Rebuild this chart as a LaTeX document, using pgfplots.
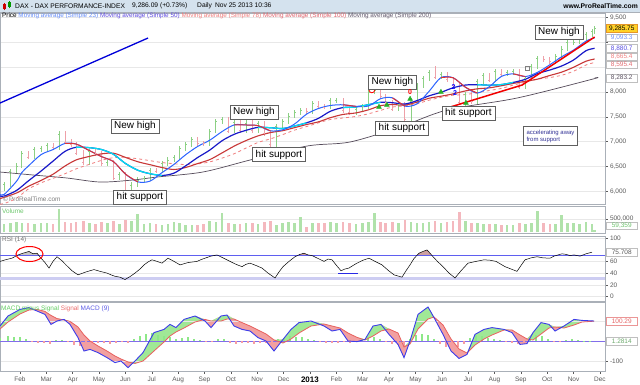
\documentclass[border=0pt]{standalone}
\usepackage{pgfplots}
\pgfplotsset{compat=1.18}
\usepackage{pgfplotstable}
\usepackage{fontspec}
\setmainfont{Liberation Sans}

\definecolor{upc}{RGB}{140,208,132}
\definecolor{dnc}{RGB}{238,160,168}
\definecolor{upv}{RGB}{176,226,170}
\definecolor{dnv}{RGB}{244,184,190}
\definecolor{smaA}{RGB}{45,100,255}
\definecolor{smaAdown}{RGB}{225,50,50}
\definecolor{smaB}{RGB}{25,25,200}
\definecolor{smaC}{RGB}{200,55,55}
\definecolor{smaD}{RGB}{240,125,125}
\definecolor{smaE}{RGB}{85,75,90}
\definecolor{cyanl}{RGB}{0,225,240}
\definecolor{tickc}{RGB}{90,90,90}
\definecolor{framec}{RGB}{170,176,184}
\definecolor{headc}{RGB}{212,226,238}
\definecolor{gridc}{RGB}{232,232,232}
\definecolor{macdc}{RGB}{60,60,235}
\definecolor{sigc}{RGB}{235,95,95}
\definecolor{zeroc}{RGB}{130,110,235}
\definecolor{lav}{RGB}{205,205,242}
\definecolor{rsiL}{RGB}{95,95,240}
\definecolor{rsiF}{RGB}{205,160,160}
\definecolor{arrowG}{RGB}{40,175,40}
\definecolor{macdG}{RGB}{160,232,150}
\definecolor{macdR}{RGB}{242,160,160}
\definecolor{ulb}{RGB}{40,40,230}

\newcommand{\tfont}{\fontsize{6.5}{7.5}\selectfont}

\pgfplotstableread{
x lo hi c v
0.40 6007 6193 6143 315
0.63 6093 6454 6404 350
0.87 6354 6562 6512 385
1.07 6462 6816 6766 350
1.55 6642 6899 6849 315
1.80 6799 6914 6864 330
2.03 6814 6972 6922 350
2.48 6830 7208 7158 880
3.63 6533 6851 6801 350
4.32 6511 6629 6579 330
4.77 6221 6389 6339 315
5.23 5928 6180 6130 420
5.47 6080 6279 6229 700
5.70 6179 6313 6263 315
5.93 6213 6466 6416 350
6.39 6360 6607 6557 280
6.61 6507 6680 6630 315
6.84 6580 6739 6689 385
7.06 6639 6915 6865 350
7.29 6815 6995 6945 260
7.52 6895 7090 7040 280
8.20 6920 7264 7214 420
8.43 7164 7462 7412 385
8.67 7362 7501 7451 720
9.13 7166 7447 7397 315
9.58 7182 7430 7380 350
10.03 7181 7413 7363 315
10.73 6900 7359 7309 280
10.97 7259 7455 7405 350
11.19 7355 7568 7518 385
11.42 7468 7646 7596 350
11.65 7546 7686 7636 560
12.10 7562 7826 7776 350
12.77 7652 7883 7833 385
13.00 7783 7883 7833 350
13.75 7543 7711 7661 315
14.00 7611 7758 7708 350
14.23 7658 8050 8000 385
14.45 7950 8093 8043 720
15.37 7612 7795 7745 350
15.83 7410 7864 7814 385
16.06 7764 8172 8122 350
16.29 8072 8328 8278 350
16.52 8228 8448 8398 385
16.97 8255 8399 8349 350
17.90 7655 8009 7959 420
18.35 7756 8262 8212 350
18.58 8162 8381 8331 315
19.03 8194 8461 8411 315
19.48 8316 8441 8391 280
19.71 8341 8466 8416 280
20.17 8054 8326 8276 315
20.40 8226 8560 8510 350
20.63 8460 8725 8675 800
21.32 8573 8775 8725 315
21.55 8675 8919 8869 650
21.77 8819 9051 9001 350
22.00 8951 9059 9009 350
22.23 8959 9129 9079 315
22.47 9029 9218 9168 385
22.70 9118 9275 9225 315
22.80 9175 9336 9286 59
}\upT

\pgfplotstableread{
x lo hi c v
1.31 6642 6816 6692 350
2.26 6830 6972 6880 315
2.71 6946 7208 6996 385
2.94 6897 7046 6947 350
3.13 6725 6997 6775 385
3.40 6533 6825 6583 420
3.87 6712 6851 6762 315
4.10 6511 6812 6561 385
4.55 6221 6629 6271 420
5.00 5928 6389 5978 455
6.16 6360 6466 6410 315
7.74 6921 7090 6971 280
7.97 6920 7021 6970 315
8.90 7166 7501 7216 350
9.35 7182 7447 7232 315
9.81 7181 7430 7231 350
10.27 7113 7413 7163 385
10.50 6900 7213 6950 420
11.87 7562 7686 7612 210
12.32 7665 7826 7715 350
12.55 7652 7765 7702 350
13.25 7584 7883 7634 385
13.50 7543 7684 7593 350
14.68 7862 8093 7912 385
14.87 7745 7962 7795 350
15.13 7612 7845 7662 385
15.60 7410 7795 7460 455
16.74 8255 8530 8305 420
17.20 8204 8399 8254 385
17.43 8077 8304 8127 420
17.67 7739 8177 7789 780
18.13 7756 8009 7806 350
18.81 8194 8381 8244 315
19.26 8316 8461 8366 280
19.94 8054 8466 8104 350
20.87 8611 8725 8661 350
21.10 8573 8711 8623 315
}\dnT

\pgfplotstableread{
x v
0.24 5935
0.40 5935
0.87 6200
1.07 6376
1.31 6503
1.80 6737
2.26 6841
2.71 6964
3.13 6951
3.63 6820
4.10 6696
4.55 6595
5.00 6346
5.47 6189
5.93 6203
6.39 6375
6.84 6540
7.29 6737
7.74 6902
8.20 7028
8.67 7204
9.13 7338
9.58 7335
10.03 7321
10.50 7217
10.97 7238
11.42 7356
11.87 7553
12.32 7667
12.77 7728
13.25 7743
13.75 7711
14.23 7719
14.68 7865
15.13 7882
15.60 7715
16.06 7761
16.52 8014
16.97 8290
17.43 8287
17.90 8096
18.35 7979
18.81 8110
19.26 8313
19.71 8366
20.17 8311
20.63 8396
21.10 8549
21.55 8711
22.00 8845
22.47 9025
22.80 9093
}\smaAT

\pgfplotstableread{
x v
0.24 5905
0.40 5902
0.87 6015
1.31 6204
1.80 6406
2.26 6609
2.71 6804
3.13 6885
3.63 6878
4.10 6839
4.55 6743
5.00 6560
5.47 6423
5.93 6353
6.39 6317
6.84 6364
7.29 6513
7.74 6679
8.20 6829
8.67 7019
9.13 7148
9.58 7228
10.03 7287
10.50 7280
10.97 7265
11.42 7315
11.87 7378
12.32 7468
12.77 7610
13.25 7686
13.75 7700
14.23 7746
14.68 7792
15.13 7784
15.60 7758
16.06 7826
16.52 7923
16.97 7993
17.43 8085
17.90 8140
18.35 8148
18.81 8138
19.26 8150
19.71 8193
20.17 8256
20.63 8372
21.10 8443
21.55 8525
22.00 8645
22.47 8832
22.80 8881
}\smaBT

\pgfplotstableread{
x v
0.24 5850
0.87 5964
1.31 6095
1.80 6217
2.26 6344
2.71 6508
3.13 6630
3.63 6701
4.10 6753
4.55 6766
5.00 6682
5.47 6594
5.93 6535
6.39 6477
6.84 6438
7.29 6479
7.74 6557
8.20 6637
8.67 6773
9.13 6910
9.58 7022
10.03 7115
10.50 7182
10.97 7221
11.42 7282
11.87 7344
12.32 7398
12.77 7481
13.25 7547
13.75 7579
14.23 7642
14.68 7724
15.13 7747
15.60 7736
16.06 7796
16.52 7874
16.97 7915
17.43 7962
17.90 8022
18.35 8064
18.81 8084
19.26 8126
19.71 8173
20.17 8216
20.63 8259
21.10 8333
21.55 8401
22.00 8499
22.47 8620
22.80 8665
}\smaCT

\pgfplotstableread{
x v
0.24 5740
0.40 5751
0.87 5858
1.31 6042
1.80 6168
2.26 6261
2.71 6353
3.13 6450
3.63 6541
4.10 6623
4.55 6676
5.00 6682
5.47 6654
5.93 6616
6.39 6578
6.84 6554
7.29 6537
7.74 6551
8.20 6591
8.67 6668
9.13 6756
9.58 6871
10.03 6983
10.50 7055
10.97 7142
11.42 7232
11.87 7303
12.32 7378
12.77 7445
13.25 7476
13.75 7508
14.23 7562
14.68 7630
15.13 7697
15.60 7722
16.06 7763
16.52 7835
16.97 7893
17.43 7935
17.90 7949
18.35 7987
18.81 8031
19.26 8072
19.71 8139
20.17 8198
20.63 8260
21.10 8291
21.55 8338
22.00 8419
22.47 8544
22.80 8595
}\smaDT

\pgfplotstableread{
x v
0.24 6387
1.49 6327
2.78 6266
4.04 6185
5.29 6226
6.20 6286
7.94 6387
9.73 6629
11.89 6911
13.52 6992
15.42 7294
17.20 7637
19.86 7879
22.74 8262
22.80 8283
}\smaET

\pgfplotstableread{
px v
0 60
6 63
12 65.5
18 71
23 74
29 77
33 73
37 74
41 65.5
45 58
49 48.6
53 60
57 68
62 61
66 54
72 44
78 37
86 42
94 46
100 43
107 40
111 37
115 34.5
120 33
125 29
130 34
135 40
140 47
144 54
148 59
152 62.7
157 60
162 57
168 65.5
174 60
180 54
188 58
197 60
201 63
205 65.5
211 69
217 71
223 66
230 60
236 55
242 51
246 55
250 57
256 53
262 48.6
268 40
275 31.7
279 42
283 51
289 60
295 68
300 72
304 74
308 71
312 70
318 65
324 60
328 64
332 62.7
337 52
341 44
345 47
349 48.6
353 53
357 57
363 62
369 65.5
375 60
382 54
388 45
394 37
398 35
402 33
406 44
410 54
414 65
419 74
423 77
427 79.6
430 74
433 68
438 59
443 51
449 40
455 31.7
461 44
468 57
476 60
484 62.7
490 62
496 60
500 56
505 51
511 47
517 43
521 53
525 62.7
531 66
537 68
543 66
550 65.5
554 69
558 71
562 73
566 72
570 70
574 71
580 69
586 73
592 75.7
}\rsiT

\pgfplotstableread{
px m s
0 75 60
8 125 95
20 158 135
29 167 155
37 150 158
45 133 148
51 83 128
57 100 112
64 108 105
70 83 98
78 17 70
84 -50 30
90 -42 0
98 -58 -25
107 -83 -50
115 -108 -75
121 -100 -90
128 -133 -105
135 -100 -112
143 -58 -100
154 42 -50
164 58 -5
170 83 25
176 67 45
184 108 65
195 125 95
205 100 108
211 67 100
221 125 100
227 130 110
234 75 110
242 58 92
250 50 75
258 17 55
266 0 35
274 -50 5
283 8 -10
291 58 10
299 92 40
311 100 75
324 75 85
332 50 75
340 58 65
348 0 40
357 -3 18
365 8 5
373 75 25
381 83 50
389 33 60
398 -17 40
404 -83 -30
410 0 -15
418 133 60
428 170 110
434 117 120
443 33 80
451 -50 10
459 -87 -40
467 -67 -60
475 33 -20
484 58 10
492 67 30
504 58 55
512 42 55
520 -17 30
527 -13 10
533 42 5
541 92 35
549 83 65
555 50 70
564 75 65
574 108 80
582 103 95
594 100 99
}\msT

\pgfplotstableread{
px v
0 15
8 25
14 22
20 18
26 10
32 -5
38 -10
44 -8
50 -15
56 5
62 6
68 -5
74 -18
80 -25
86 -20
92 -15
98 -12
104 -10
110 -15
116 -8
122 -3
128 -12
134 8
140 25
146 35
152 38
158 30
164 25
170 22
176 12
182 15
188 18
194 12
200 3
206 -5
212 -3
218 8
224 12
230 -8
236 -15
242 -12
248 -10
254 -15
260 -12
266 -10
272 -15
278 8
284 15
290 25
296 22
302 18
308 10
314 5
320 -5
326 -8
332 -10
338 -8
344 -5
350 -10
356 -3
362 12
368 20
374 18
380 12
386 -5
392 -15
398 -20
404 -25
410 10
416 28
422 35
428 30
434 12
440 -15
446 -28
452 -35
458 -32
464 -15
470 15
476 28
482 25
488 15
494 10
500 5
506 -3
512 -8
518 -15
524 -10
530 15
536 28
542 25
548 10
554 -5
560 -3
566 5
572 8
578 6
584 2
590 1
}\histT

\pgfplotsset{
  panel/.style={
    scale only axis, width=605bp, xmin=0.2428, xmax=23.194,
    anchor=south west,
    axis line style={framec, line width=0.6bp},
    major tick length=2.5bp,
    tick style={tickc, line width=0.4bp},
    tick align=outside,
    ytick pos=right, yticklabel pos=right,
    yticklabel style={font=\tfont, text=tickc, anchor=west, xshift=-1bp},
    /pgf/number format/assume math mode=true,
    /pgf/number format/1000 sep={,},
    ymajorgrids, grid style={gridc, line width=0.5bp},
  }
}
\tikzset{
  ann/.style={draw=gray!75!black, fill=white, line width=0.5bp, inner xsep=3bp, inner ysep=2.6bp,
    font=\fontsize{10}{11}\selectfont, text=black},
  vbox/.style={anchor=west, font=\tfont, inner xsep=1.5bp, inner ysep=0.9bp, fill=white,
    line width=0.5bp, minimum width=31bp, minimum height=7.5bp}
}

\begin{document}
\begin{tikzpicture}[x=1bp,y=1bp]
\useasboundingbox (0,0) rectangle (640,384);
\fill[white] (0,0) rectangle (640,384);
% header band
\fill[headc] (0,371.5) rectangle (640,384);
\draw[framec, line width=0.5bp] (0,371.5) -- (640,371.5);

% ---------------- price panel
\begin{axis}[panel, at={(0bp,180bp)}, height=191bp, ymin=5742, ymax=9593,
  ytick={6000,6500,...,9500},
  yticklabels={{6,000},{6,500},{7,000},{7,500},{8,000},{},{},{9,500}}, xtick=\empty]
\addplot[upc, only marks, mark=-, mark size=1bp, mark options={line width=0.5bp},
  error bars/.cd, y dir=both, y explicit, error mark=none,
  error bar style={upc, line width=0.7bp}]
  table[x=x, y=c, y error plus expr=\thisrow{hi}-\thisrow{c}, y error minus expr=\thisrow{c}-\thisrow{lo}] {\upT};
\addplot[dnc, only marks, mark=-, mark size=1bp, mark options={line width=0.5bp},
  error bars/.cd, y dir=both, y explicit, error mark=none,
  error bar style={dnc, line width=0.7bp}]
  table[x=x, y=c, y error plus expr=\thisrow{hi}-\thisrow{c}, y error minus expr=\thisrow{c}-\thisrow{lo}] {\dnT};
\addplot[smaE, line width=0.7bp, smooth] table[x=x, y=v] {\smaET};
\addplot[smaD, line width=0.8bp, dashed, smooth] table[x=x, y=v] {\smaDT};
\addplot[smaC, line width=1.1bp, smooth] table[x=x, y=v] {\smaCT};
\addplot[smaB, line width=1.2bp, smooth] table[x=x, y=v] {\smaBT};
\addplot[cyanl, line width=1.2bp, smooth, restrict x to domain=3.1:6.4] table[x=x, y=v] {\smaBT};
\addplot[cyanl, line width=1.2bp, smooth, restrict x to domain=10.0:11.9] table[x=x, y=v] {\smaBT};
\addplot[cyanl, line width=1.2bp, smooth, restrict x to domain=13.2:14.9] table[x=x, y=v] {\smaBT};
\addplot[cyanl, line width=1.2bp, smooth, restrict x to domain=18.1:19.8] table[x=x, y=v] {\smaBT};
\addplot[smaA, line width=1.0bp, smooth] table[x=x, y=v] {\smaAT};
\addplot[smaAdown, line width=1.0bp, smooth, restrict x to domain=2.7:5.5] table[x=x, y=v] {\smaAT};
\addplot[smaAdown, line width=1.0bp, smooth, restrict x to domain=9.1:10.55] table[x=x, y=v] {\smaAT};
\addplot[smaAdown, line width=1.0bp, smooth, restrict x to domain=13.2:13.8] table[x=x, y=v] {\smaAT};
\addplot[smaAdown, line width=1.0bp, smooth, restrict x to domain=15.1:15.65] table[x=x, y=v] {\smaAT};
\addplot[smaAdown, line width=1.0bp, smooth, restrict x to domain=16.9:18.4] table[x=x, y=v] {\smaAT};
\addplot[smaAdown, line width=1.0bp, smooth, restrict x to domain=19.7:20.2] table[x=x, y=v] {\smaAT};
% drawn trend lines
\addplot[blue!85!black, line width=1.3bp] coordinates {(0.2428,7778) (5.86,9089)};
\addplot[red!95!black, line width=1.5bp] coordinates {(17.2,7677) (20.05,8141) (22.8,9109)};
% markers
\addplot[only marks, mark=triangle*, mark size=2.8bp, color=arrowG] coordinates {(14.62,7698) (14.92,7738) (15.8,7859) (16.97,8000) (17.92,7778)};
\addplot[only marks, mark=o, mark size=2.8bp, red, mark options={line width=0.8bp}] coordinates {(14.35,8040)};
\addplot[only marks, mark=square, mark size=2bp, gray] coordinates {(20.24,8484)};
\end{axis}

% ---------------- volume panel
\begin{axis}[panel, at={(0bp,151bp)}, height=27bp, ymin=-38, ymax=1000,
  ytick={500}, yticklabels={500{,}000}, xtick=\empty]
\addplot[ycomb, upv, line width=2.6bp] table[x=x, y=v] {\upT};
\addplot[ycomb, dnv, line width=2.6bp] table[x=x, y=v] {\dnT};
\end{axis}

% ---------------- RSI panel
\begin{axis}[panel, at={(0bp,83bp)}, height=65bp, ymin=-7.7, ymax=103.4,
  ytick={0,20,40,60,100}, xtick=\empty]
\addplot[lav, line width=3bp] coordinates {(0.2428,30) (23.194,30)};
\addplot[fill=gray!45, draw=none] coordinates {(0.884,70) (0.926,71) (1.115,74) (1.343,77) (1.495,73) (1.646,74) (1.719,70)};
\addplot[fill=rsiF, draw=none] coordinates {(11.53,70) (11.624,72) (11.775,74) (11.927,71) (12.079,70)};
\addplot[fill=rsiF, draw=none] coordinates {(16.055,70) (16.138,74) (16.29,77) (16.442,79.6) (16.556,74) (16.631,70)};
\addplot[rsiL, line width=0.7bp] coordinates {(0.2428,70) (23.194,70)};
\addplot[black, line width=0.5bp] table[x expr=(\thisrow{px}+6.4)/26.36, y=v] {\rsiT};
\addplot[ulb, line width=1.5bp] coordinates {(13.07,39.7) (13.82,39.7)};
\end{axis}

% ---------------- MACD fill (stacked, hidden axis)
\begin{axis}[scale only axis, width=605bp, height=69bp, at={(0bp,13bp)}, anchor=south west,
  xmin=0.2428, xmax=23.194, ymin=-150, ymax=195, hide axis, stack plots=y]
\addplot[draw=none] table[x expr=(\thisrow{px}+6.4)/26.36, y=s] {\msT};
\addplot[fill=macdG, draw=none] table[x expr=(\thisrow{px}+6.4)/26.36, y expr={max(\thisrow{m}-\thisrow{s},0)}] {\msT} \closedcycle;
\addplot[fill=macdR, draw=none] table[x expr=(\thisrow{px}+6.4)/26.36, y expr={min(\thisrow{m}-\thisrow{s},0)}] {\msT} \closedcycle;
\end{axis}

% ---------------- MACD panel
\begin{axis}[panel, at={(0bp,13bp)}, height=69bp, ymin=-150, ymax=195,
  ytick={-100,100}, yticklabels={{-100},{}},
  xtick={1,...,23}, xtick pos=bottom,
  xticklabels={Feb,Mar,Apr,May,Jun,Jul,Aug,Sep,Oct,Nov,Dec,{\textcolor{black}{\bfseries\fontsize{8}{9}\selectfont 2013}},Feb,Mar,Apr,May,Jun,Jul,Aug,Sep,Oct,Nov,Dec},
  xticklabel style={font=\tfont, text=tickc}]
\addplot[zeroc, line width=0.7bp] coordinates {(0.2428,0) (23.194,0)};
\addplot[ycomb, upv!80!green, line width=2bp, restrict y to domain=0:300] table[x expr=(\thisrow{px}+6.4)/26.36, y=v] {\histT};
\addplot[ycomb, dnv!85!red, line width=2bp, restrict y to domain=-300:0] table[x expr=(\thisrow{px}+6.4)/26.36, y=v] {\histT};
\addplot[sigc, line width=0.8bp] table[x expr=(\thisrow{px}+6.4)/26.36, y=s] {\msT};
\addplot[macdc, line width=0.9bp] table[x expr=(\thisrow{px}+6.4)/26.36, y=m] {\msT};
\end{axis}

% ---------------- header texts
\fill[red!80!black] (2.5,374.5) rectangle (5.5,379.5);
\draw[red!80!black, line width=0.4bp] (4,373.5) -- (4,380.5);
\fill[green!60!black] (7.5,376.5) rectangle (10.5,381.5);
\draw[green!60!black, line width=0.4bp] (9,375.5) -- (9,382.8);
\node[anchor=west, inner sep=0, font=\fontsize{6.7}{7.5}\selectfont] at (15,377.8) {DAX - DAX PERFORMANCE-INDEX};
\node[anchor=west, inner sep=0, font=\fontsize{6.7}{7.5}\selectfont] at (132,377.8) {9,286.09 (+0.73\%)};
\node[anchor=west, inner sep=0, font=\fontsize{6.7}{7.5}\selectfont] at (197,377.8) {Daily\hspace{3bp}Nov 25 2013 10:36};
\node[anchor=east, inner sep=0, font=\bfseries\fontsize{6.8}{7.5}\selectfont] at (638,377.8) {www.ProRealTime.com};

% legend row
\node[anchor=west, inner sep=0, font=\fontsize{6.4}{7}\selectfont] at (2,368) {Price \textcolor[RGB]{100,140,250}{Moving average (Simple 23)} \textcolor[RGB]{95,75,225}{Moving average (Simple 50)} \textcolor[RGB]{240,125,125}{Moving average (Simple 78)} \textcolor[RGB]{225,100,110}{Moving average (Simple 100)} \textcolor[RGB]{100,90,110}{Moving average (Simple 200)}};
\node[anchor=west, inner sep=0, font=\tfont, text=gray] at (3,185) {\textcopyright\,ProRealTime.com};

% panel labels
\node[anchor=west, inner sep=0, font=\tfont, text={rgb,255:red,110;green,200;blue,110}] at (2,173) {Volume};
\node[anchor=west, inner sep=0, font=\tfont, text=gray!90!black] at (2,144) {RSI (14)};
\node[anchor=west, inner sep=0, font=\tfont] at (1,75) {\textcolor[RGB]{100,205,100}{MACD minus Signal} \textcolor[RGB]{235,110,110}{Signal} \textcolor[RGB]{90,90,230}{MACD (9)}};

% annotation boxes
\node[ann] at (135,258) {New high};
\node[ann] at (140,187) {hit support};
\node[ann] at (254,272) {New high};
\node[ann] at (279,229.5) {hit support};
\node[ann] at (392.5,302) {New high};
\node[ann] at (402,256) {hit support};
\node[ann] at (468.5,271) {hit support};
\node[ann] at (559,352) {New high};
\node[draw=gray!75!black, fill=white, line width=0.5bp, inner xsep=3bp, inner ysep=3bp, align=left,
  font=\fontsize{6}{7}\selectfont, text={rgb,255:red,50;green,50;blue,150}, anchor=center] at (550.5,248) {accelerating away\\from support};
\node[font=\bfseries\fontsize{7}{8}\selectfont, text=red, inner sep=0] at (410,292) {0};
\node[font=\bfseries\fontsize{7}{8}\selectfont, text=blue, inner sep=0] at (453.5,297) {2};
\node[font=\bfseries\fontsize{7}{8}\selectfont, text=blue, inner sep=0] at (455,291) {2};

% RSI ellipse
\draw[red, line width=1bp] (29.5,130) ellipse [x radius=13.5bp, y radius=7.5bp];

% right value boxes
\node[vbox, draw={rgb,255:red,230;green,150;blue,40}, fill={rgb,255:red,255;green,210;blue,40}] at (606,355.8) {9,285.75};
\node[vbox, draw=gray!50, text={rgb,255:red,110;green,145;blue,250}] at (606,346.2) {9,093.3};
\node[vbox, draw=gray!50, text={rgb,255:red,90;green,80;blue,225}] at (606,335.7) {8,880.7};
\node[vbox, draw=gray!50, text={rgb,255:red,240;green,130;blue,130}] at (606,327.5) {8,665.4};
\node[vbox, draw=gray!50, text={rgb,255:red,228;green,110;blue,115}] at (606,319.5) {8,595.4};
\node[vbox, draw=gray!50, text={rgb,255:red,95;green,85;blue,100}] at (606,306) {8,283.2};
\node[vbox, draw=gray!50, text={rgb,255:red,110;green,195;blue,110}] at (606,158.5) {59,359};
\node[vbox, draw=gray!50, text=tickc] at (606,131.8) {75.708};
\node[vbox, draw={rgb,255:red,235;green,150;blue,150}, text={rgb,255:red,230;green,100;blue,100}] at (606,63) {100.29};
\node[vbox, draw=gray!50, text={rgb,255:red,110;green,170;blue,110}] at (606,43) {1.2814};
\end{tikzpicture}
\end{document}
